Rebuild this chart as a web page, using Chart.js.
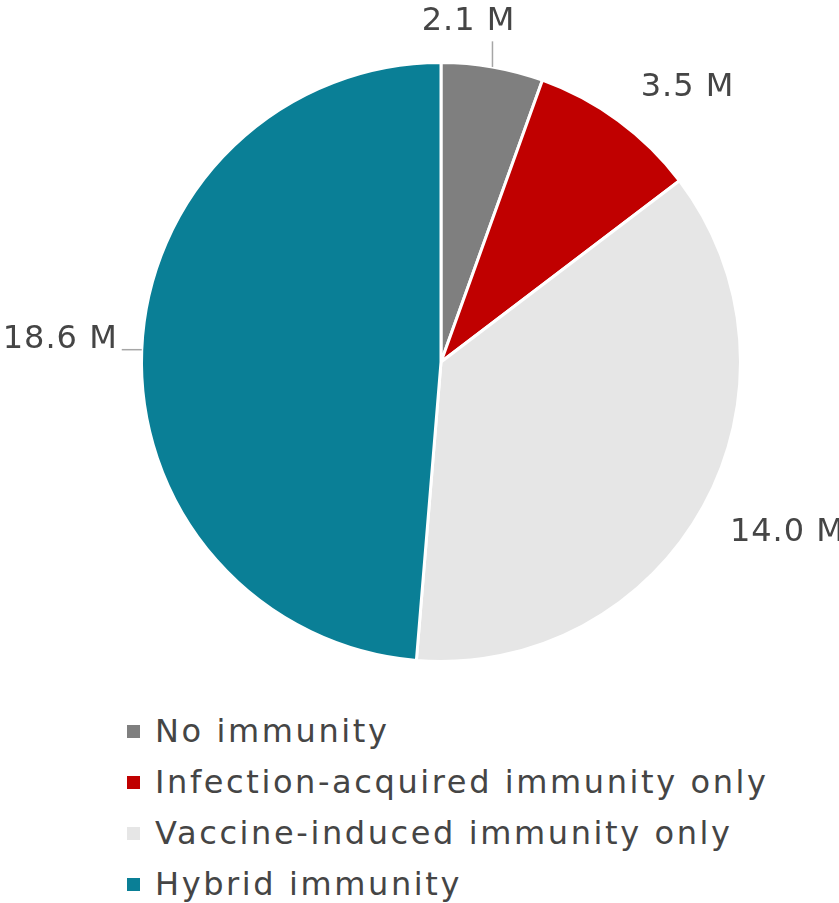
<!DOCTYPE html>
<html>
<head>
<meta charset="utf-8">
<script src="https://cdn.jsdelivr.net/npm/chart.js@4/dist/chart.umd.min.js"></script>
<style>
  html, body { margin: 0; padding: 0; background: #fff; }
  #wrap { width: 839px; height: 903px; position: relative; overflow: hidden; }
  #pieBox { width: 839px; height: 700px; position: relative; }
  #legend { list-style: none; margin: 6px 0 0 127px; padding: 0;
    font-family: "DejaVu Sans", sans-serif; font-size: 32px; color: #454545; letter-spacing: 2.6px; }
  #legend li { height: 51px; line-height: 51px; display: flex; align-items: center; white-space: nowrap; }
  #legend .box { width: 13px; height: 13px; margin-right: 15px; flex: none; }
</style>
</head>
<body>
<div id="wrap">
  <div id="pieBox"><canvas id="pieChart"></canvas></div>
  <ul id="legend"></ul>
</div>
<script>
/* ------------------------------------------------------------
   Dados
   ------------------------------------------------------------ */
const categories = ['No immunity', 'Infection-acquired immunity only', 'Vaccine-induced immunity only', 'Hybrid immunity'];
const valuesM    = [2.1, 3.5, 14.0, 18.6];
const colors     = ['#7f7f7f', '#c00000', '#e6e6e6', '#0a7f96'];

// label placement style (distance beyond the rim, vertical nudge, leader line or not)
const labelGap   = [26, 38, 30, 24];
const labelNudge = [0, -2, 12, 0];
const hasLeader  = [true, false, false, true];

const FONT = '"DejaVu Sans", sans-serif';

/* ------------------------------------------------------------
   Rótulos externos
   ------------------------------------------------------------ */
const outsideLabels = {
  id: 'outsideLabels',
  afterDatasetsDraw(chart) {
    const { ctx } = chart;
    const meta = chart.getDatasetMeta(0);
    ctx.save();
    ctx.font = '32px ' + FONT;
    ctx.letterSpacing = '1px';
    ctx.fillStyle = '#454545';
    ctx.strokeStyle = '#a6a6a6';
    ctx.lineWidth = 1.5;
    meta.data.forEach((arc, i) => {
      const { x, y, startAngle, endAngle, outerRadius } = arc.getProps(['x', 'y', 'startAngle', 'endAngle', 'outerRadius'], true);
      const mid = (startAngle + endAngle) / 2;
      const cos = Math.cos(mid), sin = Math.sin(mid);
      const d = outerRadius + labelGap[i];
      const px = x + cos * d, py = y + sin * d + labelNudge[i];
      const txt = valuesM[i].toFixed(1) + ' M';

      if (hasLeader[i]) {
        const ex = x + cos * outerRadius, ey = y + sin * outerRadius;
        ctx.beginPath();
        if (Math.abs(cos) < 0.4) {
          // vertical leader, text above
          ctx.moveTo(ex, ey); ctx.lineTo(ex, py);
          ctx.stroke();
          ctx.textAlign = 'center';
          ctx.textBaseline = 'bottom';
          ctx.fillText(txt, ex - 24, py - 4);
        } else {
          // horizontal leader, text on the side
          ctx.moveTo(ex, ey); ctx.lineTo(ex + (cos < 0 ? -20 : 20), ey);
          ctx.stroke();
          ctx.textAlign = cos < 0 ? 'right' : 'left';
          ctx.textBaseline = 'middle';
          ctx.fillText(txt, ex + (cos < 0 ? -24 : 24), ey - 10);
        }
      } else {
        ctx.textAlign = cos < 0 ? 'right' : 'left';
        ctx.textBaseline = 'middle';
        ctx.fillText(txt, px, py);
      }
    });
    ctx.restore();
  }
};

/* ------------------------------------------------------------
   Gráfico de Pizza
   ------------------------------------------------------------ */
const pieCtx = document.getElementById('pieChart');
const chart = new Chart(pieCtx, {
  type: 'pie',
  data: {
    labels: categories,
    datasets: [{
      data: valuesM,
      backgroundColor: colors,
      borderColor: '#ffffff',
      borderWidth: 3,
    }],
  },
  options: {
    responsive: true,
    maintainAspectRatio: false,
    animation: false,
    layout: { padding: { left: 140, right: 97, top: 61, bottom: 37 } },
    plugins: {
      legend: { display: false },
      tooltip: { enabled: false },
    },
  },
  plugins: [outsideLabels],
});

/* ------------------------------------------------------------
   Legenda HTML
   ------------------------------------------------------------ */
const legendEl = document.getElementById('legend');
Chart.overrides.pie.plugins.legend.labels.generateLabels(chart).forEach(item => {
  const li = document.createElement('li');
  const box = document.createElement('span');
  box.className = 'box';
  box.style.background = item.fillStyle;
  li.appendChild(box);
  li.appendChild(document.createTextNode(item.text));
  legendEl.appendChild(li);
});
</script>
</body>
</html>
